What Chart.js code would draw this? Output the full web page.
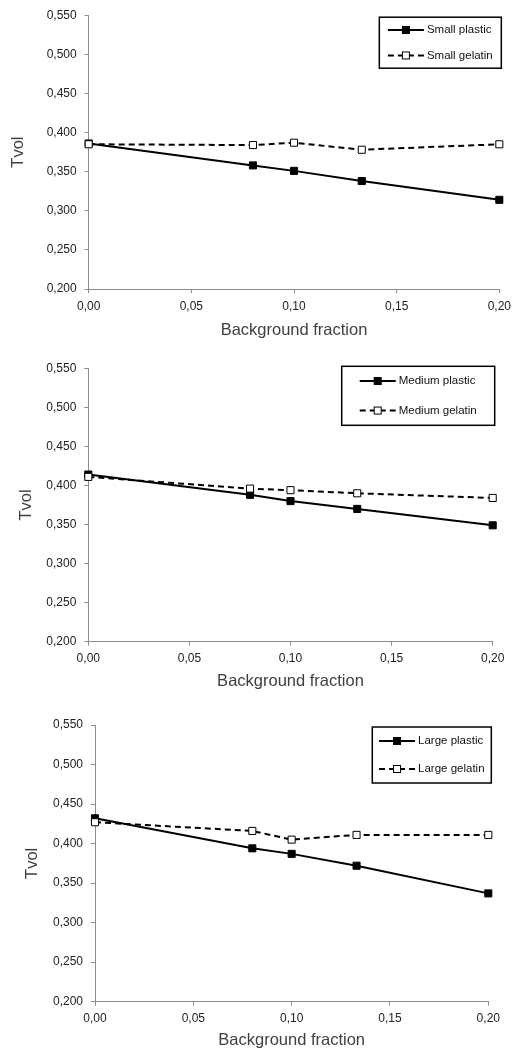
<!DOCTYPE html>
<html>
<head>
<meta charset="utf-8">
<script src="https://cdn.jsdelivr.net/npm/chart.js@4/dist/chart.umd.min.js"></script>
<style>
  body { margin: 0; background: #fff; }
  canvas { display: block; }
</style>
</head>
<body>
<canvas id="grafico__small" width="517" height="345"></canvas>
<canvas id="grafico__medium" width="517" height="355"></canvas>
<canvas id="grafico__large" width="517" height="354"></canvas>
<script>
// valores
const fractions = [0, 0.08, 0.10, 0.133, 0.20];

const smallPlastic = [0.386, 0.358, 0.351, 0.338, 0.314];
const smallGelatin = [0.385, 0.384, 0.387, 0.378, 0.385];

const mediumPlastic = [0.414, 0.388, 0.380, 0.370, 0.349];
const mediumGelatin = [0.411, 0.396, 0.394, 0.390, 0.384];

const largePlastic = [0.432, 0.394, 0.387, 0.372, 0.337];
const largeGelatin = [0.427, 0.416, 0.405, 0.411, 0.411];

const yRange = [0.20, 0.55, 0.05];
const xRange = [0, 0.20, 0.05];

const xTitle = "Background fraction";
const yTitle = "Tvol";

const FONT = '"Liberation Sans", Arial, sans-serif';
const AXIS_GRAY = "#8c8c8c";

// legenda com caixa, desenhada dentro da area do grafico
const legendaBox = {
    id: "legendaBox",
    afterDatasetsDraw(chart, args, opts) {
        const { ctx, chartArea } = chart;
        const x = chartArea.right + opts.dx - opts.width;
        const y = chartArea.top + opts.dy;
        ctx.save();
        ctx.fillStyle = "#fff";
        ctx.fillRect(x, y, opts.width, opts.height);
        ctx.lineWidth = 1.5;
        ctx.strokeStyle = "#000";
        ctx.strokeRect(x, y, opts.width, opts.height);

        ctx.font = "11.5px " + FONT;
        const lineLen = 36, gap = 3;
        const sets = chart.data.datasets;
        const textW = Math.max(...sets.map(d => ctx.measureText(d.label).width));
        const x0 = x + (opts.width - (lineLen + gap + textW)) / 2;

        sets.forEach((d, i) => {
            const cy = y + opts.height * (i === 0 ? 0.25 : 0.75);
            ctx.strokeStyle = "#000";
            ctx.lineWidth = 2;
            ctx.setLineDash(d.borderDash || []);
            ctx.beginPath();
            ctx.moveTo(x0, cy);
            ctx.lineTo(x0 + lineLen, cy);
            ctx.stroke();
            ctx.setLineDash([]);
            const mx = x0 + lineLen / 2;
            ctx.fillStyle = d.pointBackgroundColor;
            ctx.fillRect(mx - 3.5, cy - 3.5, 7, 7);
            ctx.lineWidth = 1;
            ctx.strokeRect(mx - 3.5, cy - 3.5, 7, 7);
            ctx.fillStyle = "#111";
            ctx.textBaseline = "middle";
            ctx.fillText(d.label, x0 + lineLen + gap, cy);
        });
        ctx.restore();
    }
};

function pontos(values) {
    return fractions.map((f, i) => ({ x: f, y: values[i] }));
}

function criaGrafico(id, nome, plastic, gelatin, lay, legenda) {
    const context = document.getElementById(id).getContext("2d");
    return new Chart(context, {
        type: "scatter",
        data: {
            datasets: [
                {
                    label: nome + " plastic",
                    data: pontos(plastic),
                    showLine: true,
                    borderColor: "#000",
                    borderWidth: 2,
                    pointStyle: "rect",
                    pointRadius: 5,
                    pointBackgroundColor: "#000",
                    pointBorderColor: "#000",
                    pointBorderWidth: 1,
                    clip: false,
                    order: 2,
                },
                {
                    label: nome + " gelatin",
                    data: pontos(gelatin),
                    showLine: true,
                    borderColor: "#000",
                    borderWidth: 2,
                    borderDash: [6, 4],
                    pointStyle: "rect",
                    pointRadius: 5,
                    pointBackgroundColor: "#fff",
                    pointBorderColor: "#000",
                    pointBorderWidth: 1,
                    clip: false,
                    order: 1,
                },
            ],
        },
        options: {
            responsive: false,
            animation: false,
            layout: { padding: { top: lay.top, right: lay.right, left: 0, bottom: 0 } },
            plugins: {
                legend: { display: false },
                tooltip: { enabled: false },
                legendaBox: legenda,
            },
            scales: {
                x: {
                    type: "linear",
                    min: xRange[0],
                    max: xRange[1],
                    afterFit: s => { s.height = lay.xHeight; },
                    grid: { drawOnChartArea: false, drawTicks: true, tickLength: 4, color: AXIS_GRAY },
                    border: { color: AXIS_GRAY, width: 1 },
                    ticks: {
                        stepSize: xRange[2],
                        padding: 6,
                        color: "#222",
                        font: { family: FONT, size: 12 },
                        callback: v => v.toFixed(2).replace(".", ","),
                    },
                    title: {
                        display: true,
                        text: xTitle,
                        color: "#404040",
                        font: { family: FONT, size: 16.5 },
                        padding: { top: 0, bottom: lay.xTitlePad },
                    },
                },
                y: {
                    min: yRange[0],
                    max: yRange[1],
                    afterFit: s => { s.width = lay.yWidth; },
                    grid: { drawOnChartArea: false, drawTicks: true, tickLength: 4, color: AXIS_GRAY },
                    border: { color: AXIS_GRAY, width: 1 },
                    ticks: {
                        stepSize: yRange[2],
                        padding: 8,
                        color: "#222",
                        font: { family: FONT, size: 12 },
                        callback: v => v.toFixed(3).replace(".", ","),
                    },
                    title: {
                        display: true,
                        text: yTitle,
                        color: "#404040",
                        font: { family: FONT, size: 16.5 },
                        padding: { top: lay.yTitlePad, bottom: 0 },
                    },
                },
            },
        },
        plugins: [legendaBox],
    });
}

criaGrafico("grafico__small", "Small", smallPlastic, smallGelatin,
    { top: 13.3, right: 13.7, yWidth: 88.7, xHeight: 56, xTitlePad: 5, yTitlePad: 8.8 },
    { width: 122, height: 51, dx: 2, dy: 2 });

criaGrafico("grafico__medium", "Medium", mediumPlastic, mediumGelatin,
    { top: 23.3, right: 24.3, yWidth: 88.3, xHeight: 58.3, xTitlePad: 8.4, yTitlePad: 17 },
    { width: 153, height: 59, dx: 2, dy: -2 });

criaGrafico("grafico__large", "Large", largePlastic, largeGelatin,
    { top: 25, right: 28.7, yWidth: 95, xHeight: 52.3, xTitlePad: 4, yTitlePad: 23 },
    { width: 119, height: 56, dx: 3, dy: 2 });
</script>
</body>
</html>
